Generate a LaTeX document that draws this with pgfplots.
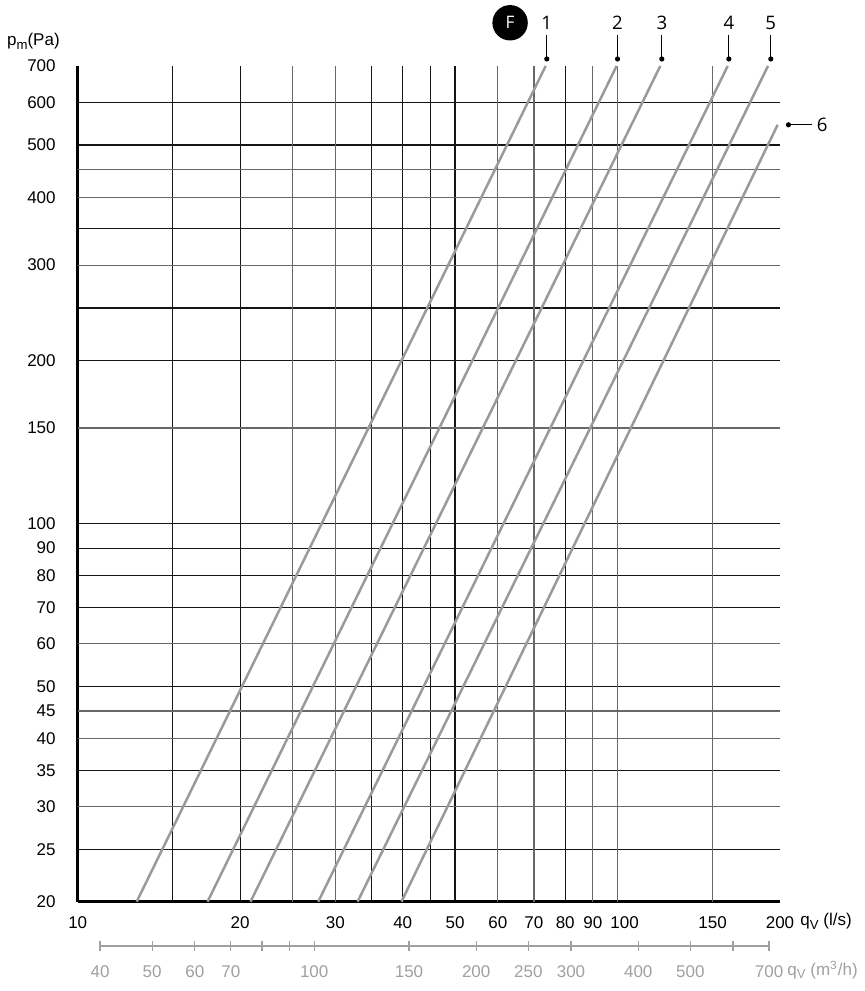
\documentclass[border=0pt]{standalone}
\usepackage{fontspec}
\setmainfont{Liberation Sans}
\newfontfamily\osans{Open Sans}
\usepackage{pgfplots}
\pgfplotsset{compat=1.18}
\definecolor{gdark}{HTML}{151515}
\definecolor{ggray}{HTML}{686868}
\definecolor{curve}{HTML}{9A9A9A}
\definecolor{sec}{HTML}{A0A0A0}
\newcommand\sub[1]{\raisebox{-1.9pt}{\fontsize{6.6}{7}\selectfont #1}}
\begin{document}
\begin{tikzpicture}
\begin{axis}[
 name=main, at={(0,0)}, anchor=south west,
 scale only axis, width=351.15pt, height=417.85pt,
 xmode=log, ymode=log, xmin=10, xmax=200, ymin=20, ymax=700,
 axis x line*=bottom, axis y line*=left,
 axis line style={line width=1.6pt, black, -},
 xtick={10,20,30,40,50,60,70,80,90,100,150,200},
 xticklabels={10,20,30,40,50,60,70,80,90,\hspace*{7pt}100,150,200},
 ytick={20,25,30,35,40,45,50,60,70,80,90,100,150,200,300,400,500,600,700},
 yticklabels={20,25,30,35,40,45,50,60,70,80,90,100,150,200,300,400,500,600,700},
 minor xtick={15,20,35,40,45,50,80},
 minor ytick={25,35,50,70,80,90,100,200,250,350,500,600},
 extra x ticks={25,30,60,70,90,100,150},
 extra x tick labels={,,,,,,},
 extra y ticks={30,40,45,60,150,300,400,450},
 extra y tick labels={,,,,,,,},
 extra tick style={grid=major, major grid style={ggray, line width=0.62pt}},
 xmajorgrids=false, ymajorgrids=false,
 xminorgrids=true, yminorgrids=true,
 minor grid style={gdark, line width=0.58pt},
 major tick length=0pt, minor tick length=0pt,
 tick label style={font=\fontsize{8.5}{10}\selectfont},
 xticklabel shift=3.7pt, yticklabel shift=7.5pt,
 clip=false,
]
\addplot[curve, line width=1.25pt] coordinates {(12.86,20) (73.6,700)};
\addplot[curve, line width=1.25pt] coordinates {(17.4,20) (99.6,700)};
\addplot[curve, line width=1.25pt] coordinates {(20.9,20) (120,700)};
\addplot[curve, line width=1.25pt] coordinates {(27.9,20) (160,700)};
\addplot[curve, line width=1.25pt] coordinates {(33.0,20) (190,700)};
\addplot[curve, line width=1.25pt] coordinates {(39.8,20) (198,545)};
% callouts
\draw[black, line width=0.6pt] ([yshift=3.5pt]axis cs:73.96,700) -- ([yshift=15.5pt]axis cs:73.96,700);
\fill[black] ([yshift=3.5pt]axis cs:73.96,700) circle (1.3pt);
\node[font=\osans\fontsize{9.3}{11}\selectfont] at ([yshift=21.4pt]axis cs:73.96,700) {1};
\draw[black, line width=0.6pt] ([yshift=3.5pt]axis cs:100,700) -- ([yshift=15.5pt]axis cs:100,700);
\fill[black] ([yshift=3.5pt]axis cs:100,700) circle (1.3pt);
\node[font=\osans\fontsize{9.3}{11}\selectfont] at ([yshift=21.4pt]axis cs:100,700) {2};
\draw[black, line width=0.6pt] ([yshift=3.5pt]axis cs:120.8,700) -- ([yshift=15.5pt]axis cs:120.8,700);
\fill[black] ([yshift=3.5pt]axis cs:120.8,700) circle (1.3pt);
\node[font=\osans\fontsize{9.3}{11}\selectfont] at ([yshift=21.4pt]axis cs:120.8,700) {3};
\draw[black, line width=0.6pt] ([yshift=3.5pt]axis cs:160.8,700) -- ([yshift=15.5pt]axis cs:160.8,700);
\fill[black] ([yshift=3.5pt]axis cs:160.8,700) circle (1.3pt);
\node[font=\osans\fontsize{9.3}{11}\selectfont] at ([yshift=21.4pt]axis cs:160.8,700) {4};
\draw[black, line width=0.6pt] ([yshift=3.5pt]axis cs:192.3,700) -- ([yshift=15.5pt]axis cs:192.3,700);
\fill[black] ([yshift=3.5pt]axis cs:192.3,700) circle (1.3pt);
\node[font=\osans\fontsize{9.3}{11}\selectfont] at ([yshift=21.4pt]axis cs:192.3,700) {5};
\draw[black, line width=0.6pt] ([xshift=5.4pt]axis cs:198,545) -- ([xshift=17.1pt]axis cs:198,545);
\fill[black] ([xshift=5.4pt]axis cs:198,545) circle (1.3pt);
\node[font=\osans\fontsize{9.3}{11}\selectfont] at ([xshift=22.25pt]axis cs:198,545) {6};
\fill[black] ([yshift=21.6pt]axis cs:63.24,700) circle (8.85pt);
\node[white, font=\osans\fontsize{8.6}{10}\selectfont] at ([yshift=21.6pt]axis cs:63.24,700) {F};
\end{axis}
\begin{axis}[
 name=sec, at={(0,-22.15pt)}, anchor=south west,
 scale only axis, width=351.15pt, height=2pt,
 xmode=log, xmin=36.36, xmax=733.7, ymin=0, ymax=1,
 axis x line*=bottom, hide y axis,
 x axis line style={draw=none},
 xtick={40,50,60,70,80,90,100,150,200,250,300,400,500,600,700},
 xticklabels={40,50,60,70,,,100,150,200,250,300,400,500,,700},
 minor xtick={},
 xtick align=center, major tick length=5pt,
 tick style={sec, line width=0.6pt},
 xticklabel style={font=\fontsize{8.5}{10}\selectfont, text=sec},
 xticklabel shift=4pt,
 clip=false,
]
\addplot[sec, line width=0.7pt] coordinates {(40,0) (700,0)};
\end{axis}
\node[anchor=base west, inner sep=0pt, font=\fontsize{8.5}{10}\selectfont] at ([xshift=10pt, yshift=-12pt]main.south east) {q\sub{V} (l/s)};
\node[anchor=base west, inner sep=0pt, text=sec, font=\fontsize{8.5}{10}\selectfont] at ([xshift=3.5pt, yshift=-36.65pt]main.south east) {q\sub{V} (m\textsuperscript{3}/h)};
\node[anchor=base west, inner sep=0pt, font=\fontsize{8.5}{10}\selectfont] at ([xshift=-35.5pt, yshift=10pt]main.north west) {p\sub{m}(Pa)};
\pgfresetboundingbox
\path (-38.85pt,-44.65pt) rectangle (393.65pt,450.85pt);
\end{tikzpicture}
\end{document}
